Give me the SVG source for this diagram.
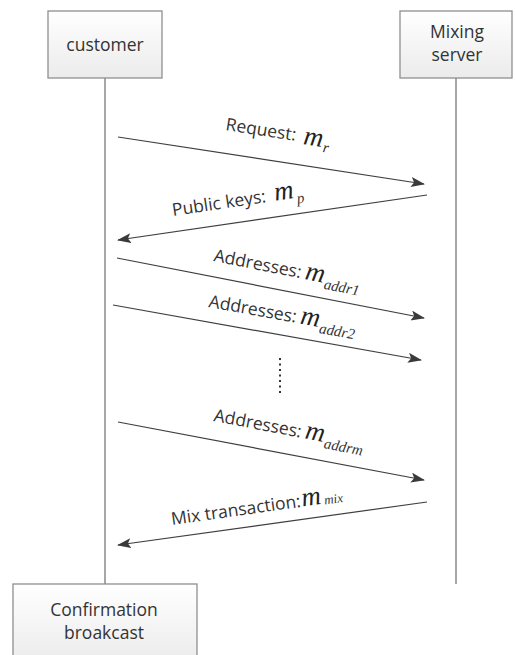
<svg xmlns="http://www.w3.org/2000/svg" width="515" height="655" viewBox="0 0 515 655">
<defs>
<linearGradient id="boxg" x1="0" y1="0" x2="0" y2="1">
<stop offset="0" stop-color="#ffffff"/>
<stop offset="1" stop-color="#ebebeb"/>
</linearGradient>
<marker id="ah" markerWidth="14" markerHeight="10" refX="13" refY="5" orient="auto" markerUnits="userSpaceOnUse">
<path d="M0,0 L14,5 L0,10 L3,5 Z" fill="#3a3a3a"/>
</marker>
<style>
.box{fill:url(#boxg);stroke:#8f8f8f;stroke-width:1.3}
.bt{font-family:"Open Sans","Liberation Sans",sans-serif;font-size:17.5px;fill:#333;text-anchor:middle}
.life{stroke:#8a8a8a;stroke-width:1.5;fill:none}
.msg{stroke:#3f3f3f;stroke-width:1.2;fill:none;marker-end:url(#ah)}
.lbl{font-family:"Open Sans","Liberation Sans",sans-serif;font-size:17.5px;fill:#333}
.m{font-family:"Liberation Serif",serif;font-style:italic;font-size:27px;fill:#222}
.sub{font-family:"Liberation Serif",serif;font-style:italic;font-size:15px;fill:#333}
.subs{font-family:"Liberation Serif",serif;font-style:italic;font-size:13px;fill:#333}
</style>
</defs>
<rect width="515" height="655" fill="#ffffff"/>
<g id="lifelines">
<line class="life" x1="105" y1="78" x2="105" y2="584"/>
<line class="life" x1="456" y1="78" x2="456" y2="584"/>
</g>
<g id="customer">
<rect class="box" x="48" y="11" width="114" height="67"/>
<text class="bt" x="105" y="51">customer</text>
</g>
<g id="mixing-server">
<rect class="box" x="400" y="11" width="112" height="67"/>
<text class="bt" x="457" y="38">Mixing</text>
<text class="bt" x="457" y="61">server</text>
</g>
<g id="confirmation">
<rect class="box" x="13" y="584" width="184" height="80"/>
<text class="bt" x="104" y="616">Confirmation</text>
<text class="bt" x="104" y="639">broakcast</text>
</g>
<g id="connectors">
<line class="msg" x1="118" y1="137" x2="424" y2="184"/>
<line class="msg" x1="427" y1="195" x2="118" y2="240"/>
<line class="msg" x1="117" y1="258" x2="424" y2="318"/>
<line class="msg" x1="113" y1="305" x2="421" y2="360"/>
<line class="msg" x1="118" y1="422" x2="424" y2="480"/>
<line class="msg" x1="427" y1="502" x2="118" y2="545"/>
<line x1="280" y1="358" x2="280" y2="393" stroke="#333" stroke-width="2" stroke-dasharray="2,3.5"/>
</g>
<g id="labels">
<text transform="translate(225,130) rotate(8.76)"><tspan class="lbl">Request:</tspan><tspan class="m" dx="8" dy="2">m</tspan><tspan class="sub" dx="1" dy="5">r</tspan></text>
<text transform="translate(173,216) rotate(-8.45)"><tspan class="lbl">Public keys:</tspan><tspan class="m" dx="9">m</tspan><tspan class="sub" dx="2" dy="6">p</tspan></text>
<text transform="translate(213,261) rotate(11.1)"><tspan class="lbl">Addresses:</tspan><tspan class="m" dx="4">m</tspan><tspan class="sub" dx="1" dy="6">addr1</tspan></text>
<text transform="translate(208,307) rotate(10.16)"><tspan class="lbl">Addresses:</tspan><tspan class="m" dx="4">m</tspan><tspan class="sub" dx="1" dy="6">addr2</tspan></text>
<text transform="translate(213,421) rotate(10.77)"><tspan class="lbl">Addresses:</tspan><tspan class="m" dx="4">m</tspan><tspan class="sub" dx="1" dy="6">addrm</tspan></text>
<text transform="translate(172,525) rotate(-8.03)"><tspan class="lbl">Mix transaction:</tspan><tspan class="m" dx="1">m</tspan><tspan class="subs" dx="3" dy="1">mix</tspan></text>
</g>
</svg>
